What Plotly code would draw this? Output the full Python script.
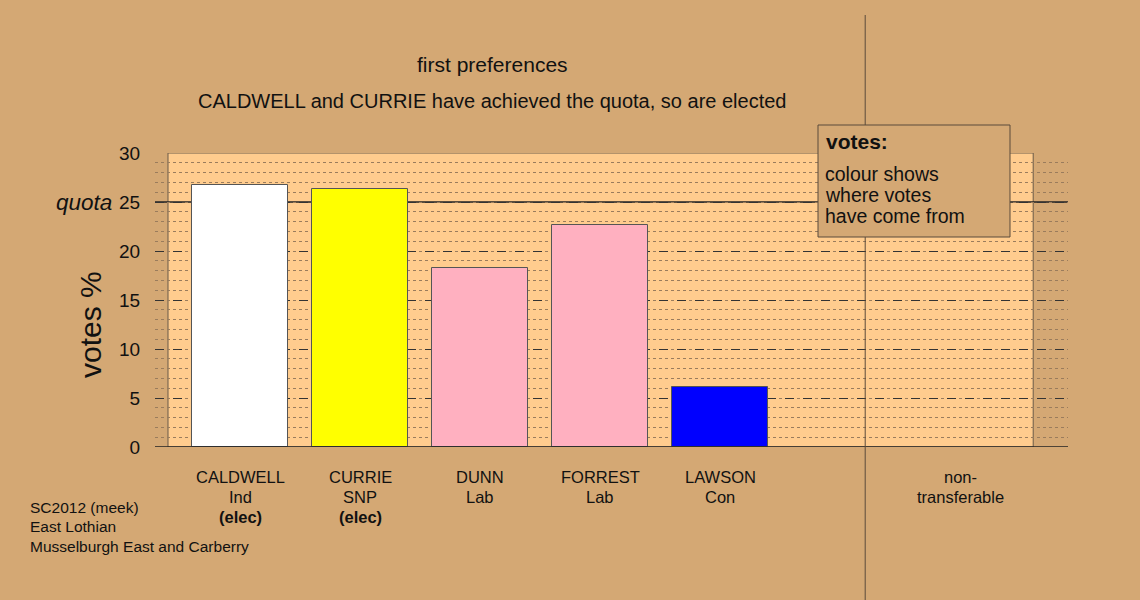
import plotly.graph_objects as go

candidates = ["CALDWELL", "CURRIE", "DUNN", "FORREST", "LAWSON"]
parties = ["Ind", "SNP", "Lab", "Lab", "Con"]
elected = [True, True, False, False, False]
votes = [26.73, 26.33, 18.27, 22.65, 6.12]
bar_colors = ["#FFFFFF", "#FFFF00", "#FFB0C0", "#FFB0C0", "#0000FF"]
positions = [1, 2, 3, 4, 5]
nontrans_pos = 7.0
nontrans_lines = ["non-", "transferable"]
quota = 25
y_ticks = [0, 5, 10, 15, 20, 25, 30]

BG = "#D4A874"
INNER = "#FFCC8E"
W, H = 1140, 600
L, R, T, B = 155, 72, 153, 153
x_range = [0.2917, 7.9]

def px_to_paper_x(px):
    return (px - L) / (W - L - R)

def px_to_paper_y(py):
    return (H - B - py) / (H - T - B)

fig = go.Figure()
fig.add_trace(go.Bar(
    x=positions, y=votes, width=0.8,
    marker=dict(color=bar_colors, line=dict(color="#555555", width=1)),
    showlegend=False, hoverinfo="skip"))

shapes = [
    dict(type="rect", xref="x", yref="y", x0=0.4, x1=7.61, y0=0, y1=30,
         fillcolor=INNER, line=dict(color="#6b5a48", width=1), layer="below"),
    dict(type="line", xref="x", yref="y", x0=x_range[0], x1=x_range[1], y0=quota, y1=quota,
         line=dict(color="#222222", width=1.3), layer="below"),
    dict(type="line", xref="paper", yref="y", x0=0, x1=1, y0=0, y1=0,
         line=dict(color="#222222", width=1.5), layer="above"),
    dict(type="line", xref="x", yref="paper", x0=6.21, x1=6.21,
         y0=px_to_paper_y(600), y1=px_to_paper_y(15),
         line=dict(color="#5a4a3a", width=1), layer="above"),
    dict(type="rect", xref="paper", yref="paper",
         x0=px_to_paper_x(818), x1=px_to_paper_x(1010),
         y0=px_to_paper_y(237), y1=px_to_paper_y(125),
         fillcolor=BG, line=dict(color="#5a4a3a", width=1), layer="above"),
]

ann = []

def add_text(text, px, py, size, xanchor="center", xref="paper", bold=False):
    x = px_to_paper_x(px) if xref == "paper" else px
    ann.append(dict(text=f"<b>{text}</b>" if bold else text, xref=xref, yref="paper",
                    x=x, y=px_to_paper_y(py), xanchor=xanchor, yanchor="middle",
                    showarrow=False, font=dict(size=size, color="#111111")))

add_text("first preferences", 492, 65, 21)
add_text("CALDWELL and CURRIE have achieved the quota, so are elected", 492, 101, 20)
for p, c, pa, e in zip(positions, candidates, parties, elected):
    add_text(c, p, 477, 16.5, xref="x")
    add_text(pa, p, 497, 16.5, xref="x")
    if e:
        add_text("(elec)", p, 517, 16.5, xref="x", bold=True)
for i, line in enumerate(nontrans_lines):
    add_text(line, nontrans_pos, 477 + 20 * i, 16.5, xref="x")
for i, line in enumerate(["SC2012 (meek)", "East Lothian", "Musselburgh East and Carberry"]):
    add_text(line, 28, 507 + 19.5 * i, 15.5, xanchor="left")
add_text("votes:", 824, 141, 21, xanchor="left", bold=True)
for i, line in enumerate(["colour shows", "where votes", "have come from"]):
    add_text(line, 823, 173.5 + 21 * i, 19.5, xanchor="left")

ann.append(dict(text="<i>quota</i>", xref="paper", yref="y", x=px_to_paper_x(114),
                y=quota, xanchor="right", yanchor="middle", showarrow=False,
                font=dict(size=22.5, color="#111111")))
ann.append(dict(text="votes %", xref="paper", yref="paper", x=px_to_paper_x(90),
                y=px_to_paper_y(325), textangle=-90, showarrow=False,
                xanchor="center", yanchor="middle",
                font=dict(size=30, color="#111111")))

fig.update_layout(
    width=W, height=H,
    margin=dict(l=L, r=R, t=T, b=B),
    paper_bgcolor=BG, plot_bgcolor=BG,
    font=dict(family="Liberation Sans, Arial, sans-serif", color="#111111"),
    shapes=shapes, annotations=ann, bargap=0,
    xaxis=dict(range=x_range, showticklabels=False, showgrid=False, zeroline=False,
               showline=False, fixedrange=True),
    yaxis=dict(range=[0, 30], tickvals=y_ticks, showgrid=True,
               gridcolor="#333333", griddash="dash", gridwidth=1,
               zeroline=False, showline=False, ticks="outside", ticklen=10,
               tickcolor="rgba(0,0,0,0)",
               tickfont=dict(size=19, color="#111111"),
               minor=dict(dtick=1, showgrid=True, gridcolor="#9a7c5c",
                          griddash="dot", gridwidth=1),
               fixedrange=True),
)

fig.write_html("out.html", config={"displayModeBar": False},
               post_script="document.body.style.margin='0';")
